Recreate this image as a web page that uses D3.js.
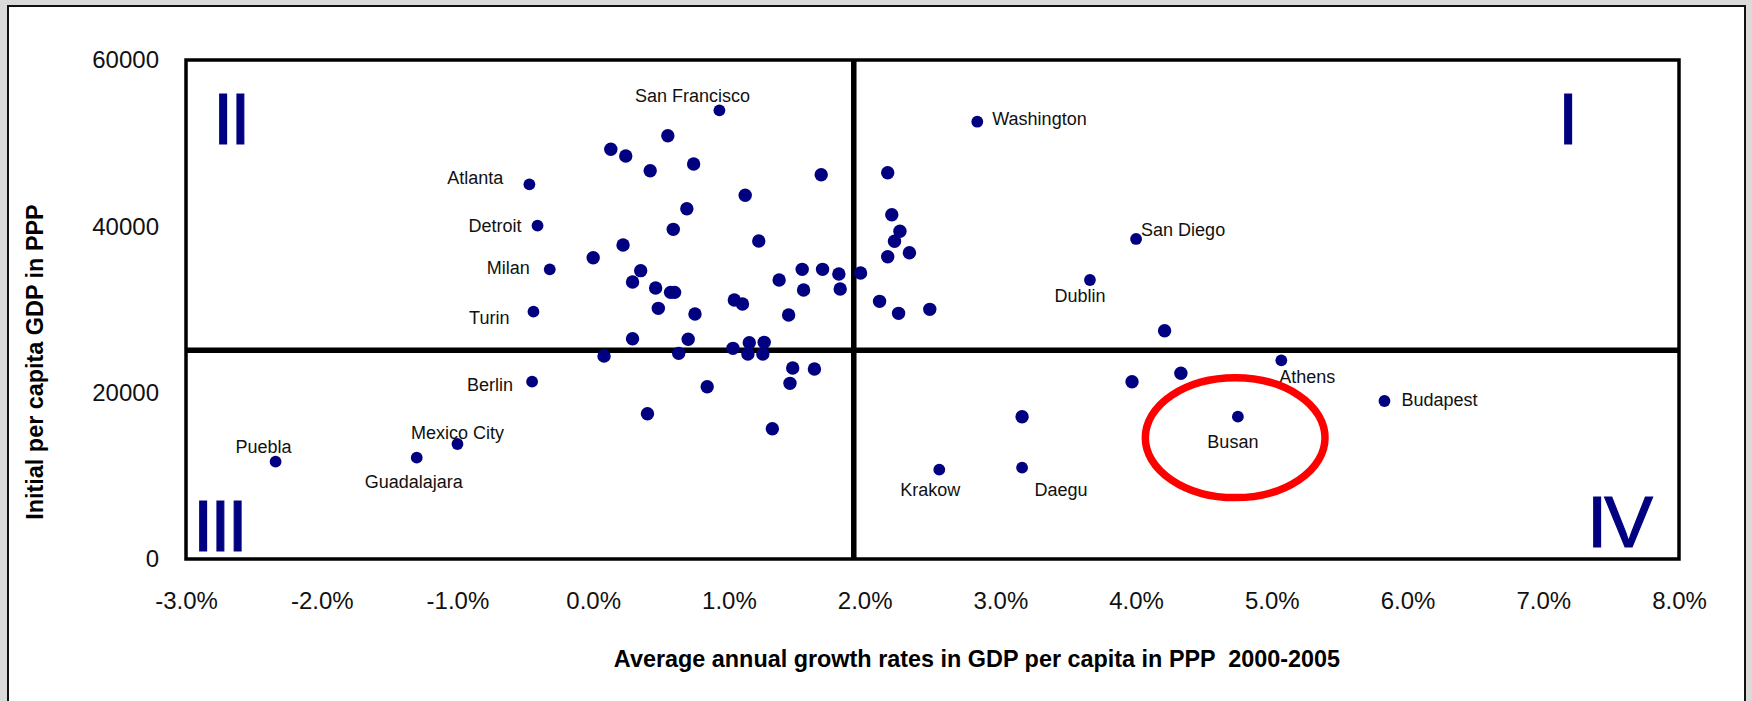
<!DOCTYPE html>
<html>
<head>
<meta charset="utf-8">
<script src="https://cdn.jsdelivr.net/npm/d3@7/dist/d3.min.js"></script>
<style>
	html, body { margin: 0; padding: 0; background: #dadada; }
	svg { display: block; font-family: 'Liberation Sans', Arial, sans-serif; }
</style>
</head>
<body>
<svg id="chart" width="1752" height="701"></svg>
<script>
// city labels ('' = unlabelled point)
const cities = [
	'San Francisco', 'Washington', 'Atlanta', 'Detroit', 'Milan', 'Turin', 'Berlin',
	'Mexico City', 'Puebla', 'Guadalajara', 'Dublin', 'San Diego', 'Athens',
	'Budapest', 'Busan', 'Krakow', 'Daegu',
	'', '', '', '', '', '', '', '', '', '', '', '', '', '', '', '', '', '', '', '',
	'', '', '', '', '', '', '', '', '', '', '', '', '', '', '', '', '', '', '', '',
	'', '', '', '', '', '', '', '', '', '', '', '', '', '', ''
];

// average annual growth 2000-2005, in %
const growthRates = [
	0.93, 2.83, -0.47, -0.41, -0.32, -0.44, -0.45,
	-1.00, -2.34, -1.30, 3.66, 4.00, 5.07,
	5.83, 4.75, 2.55, 3.16,
	0.55, 0.13, 0.24, 0.42, 0.74, 1.68, 1.12, 0.69, 0.59, 1.22, 0.22, 0.00,
	0.35, 1.54, 1.69, 1.81, 1.37, 0.29, 0.46, 0.57, 0.60, 1.55, 1.82, 1.04,
	1.10, 0.48, 0.75, 1.44, 0.29, 0.70, 0.08, 0.63, 1.03, 1.15, 1.26, 1.14,
	1.25, 1.47, 1.63, 1.45, 0.84, 0.40, 1.32, 2.17, 2.20, 2.26, 2.22, 2.33,
	2.17, 1.97, 2.11, 2.25, 2.48, 4.21, 3.97, 4.33, 3.16
];

// initial per capita GDP in PPP
const initialGdp = [
	53950, 52580, 45050, 40080, 34830, 29740, 21320,
	13830, 11700, 12180, 33550, 38480, 23890,
	19000, 17110, 10740, 10980,
	50900, 49260, 48460, 46690, 47500, 46210, 43730, 42120, 39640, 38240, 37750, 36230,
	34670, 34830, 34830, 34270, 33550, 33310, 32580, 32060, 32060, 32350, 32460, 31140,
	30660, 30140, 29460, 29340, 26490, 26420, 24410, 24730, 25330, 26010, 26050, 24650,
	24650, 22970, 22850, 21120, 20720, 17470, 15670, 46450, 41400, 39400, 38200, 36830,
	36350, 34390, 30980, 29540, 30020, 27450, 21320, 22330, 17110
];

const xTicks = [-3, -2, -1, 0, 1, 2, 3, 4, 5, 6, 7, 8];
const yTicks = [0, 20000, 40000, 60000];

// quadrant split: averages
const averageGrowth = 1.92;
const averageGdp = 25100;

// highlight round Busan (centre and radii in data units)
const highlight = { growth: 4.73, gdp: 14590, growthRadius: 0.662, gdpRadius: 7210 };

const quadrants = ['I', 'II', 'III', 'IV'];

const labelPlacement = {
	'San Francisco': { dx: -27, dy: -8, anchor: 'middle' },
	'Washington': { dx: 15, dy: 3, anchor: 'start' },
	'Atlanta': { dx: -26, dy: 0, anchor: 'end' },
	'Detroit': { dx: -16, dy: 6, anchor: 'end' },
	'Milan': { dx: -20, dy: 5, anchor: 'end' },
	'Turin': { dx: -24, dy: 12, anchor: 'end' },
	'Berlin': { dx: -19, dy: 9, anchor: 'end' },
	'Mexico City': { dx: 0, dy: -5, anchor: 'middle' },
	'Puebla': { dx: -12, dy: -9, anchor: 'middle' },
	'Guadalajara': { dx: -3, dy: 30, anchor: 'middle' },
	'Dublin': { dx: -10, dy: 22, anchor: 'middle' },
	'San Diego': { dx: 5, dy: -3, anchor: 'start' },
	'Athens': { dx: -2, dy: 23, anchor: 'start' },
	'Budapest': { dx: 17, dy: 5, anchor: 'start' },
	'Busan': { dx: -5, dy: 31, anchor: 'middle' },
	'Krakow': { dx: -9, dy: 26, anchor: 'middle' },
	'Daegu': { dx: 39, dy: 28, anchor: 'middle' }
};

const plot = { left: 186, top: 60, right: 1679, bottom: 559 };
const navy = '#000080';

const points = growthRates.map((g, i) => ({
	name: cities[i],
	growth: g,
	gdp: initialGdp[i]
}));

const svg = d3.select('#chart');

const x = d3.scaleLinear()
	.domain([xTicks[0], xTicks[xTicks.length - 1]])
	.range([plot.left, plot.right]);

const y = d3.scaleLinear()
	.domain([yTicks[0], yTicks[yTicks.length - 1]])
	.range([plot.bottom, plot.top]);

// outer slide frame
svg.append('rect')
	.attr('x', 8)
	.attr('y', 6)
	.attr('width', 1737)
	.attr('height', 740)
	.attr('fill', '#fff')
	.attr('stroke', '#111')
	.attr('stroke-width', 2);

// axes (labels only, frame does the lines)
const xAxis = svg.append('g')
	.attr('transform', `translate(0,${plot.bottom})`)
	.call(d3.axisBottom(x)
		.tickValues(xTicks)
		.tickSize(0)
		.tickPadding(33)
		.tickFormat((d) => d.toFixed(1) + '%'));

const yAxis = svg.append('g')
	.attr('transform', `translate(${plot.left},0)`)
	.call(d3.axisLeft(y)
		.tickValues(yTicks)
		.tickSize(0)
		.tickPadding(27)
		.tickFormat(d3.format('d')));

[xAxis, yAxis].forEach((axis) => {
	axis.select('.domain').remove();
	axis.selectAll('text')
		.attr('font-family', "'Liberation Sans', Arial, sans-serif")
		.attr('font-size', 24)
		.attr('fill', '#111');
});

// quadrant dividers
svg.append('line')
	.attr('x1', plot.left)
	.attr('x2', plot.right)
	.attr('y1', y(averageGdp))
	.attr('y2', y(averageGdp))
	.attr('stroke', '#000')
	.attr('stroke-width', 5.5);

svg.append('line')
	.attr('x1', x(averageGrowth))
	.attr('x2', x(averageGrowth))
	.attr('y1', plot.top)
	.attr('y2', plot.bottom)
	.attr('stroke', '#000')
	.attr('stroke-width', 5.5);

// plot frame
svg.append('rect')
	.attr('x', plot.left)
	.attr('y', plot.top)
	.attr('width', plot.right - plot.left)
	.attr('height', plot.bottom - plot.top)
	.attr('fill', 'none')
	.attr('stroke', '#000')
	.attr('stroke-width', 3.5);

// quadrant numerals
const quadrantPos = {
	'I': { x: plot.right - 121, y: 144, anchor: 'start' },
	'II': { x: plot.left + 27, y: 144, anchor: 'start' },
	'III': { x: plot.left + 7, y: 551, anchor: 'start' },
	'IV': { x: plot.right - 29, y: 547, anchor: 'end' }
};

svg.append('g')
	.selectAll('text')
	.data(quadrants)
	.join('text')
	.attr('x', (d) => quadrantPos[d].x)
	.attr('y', (d) => quadrantPos[d].y)
	.attr('text-anchor', (d) => quadrantPos[d].anchor)
	.attr('font-size', 73)
	.attr('letter-spacing', -3)
	.attr('fill', navy)
	.attr('stroke', navy)
	.attr('stroke-width', 1.2)
	.text((d) => d);

// points
svg.append('g')
	.selectAll('circle')
	.data(points)
	.join('circle')
	.attr('cx', (d) => x(d.growth))
	.attr('cy', (d) => y(d.gdp))
	.attr('r', (d) => d.name ? 5.9 : 6.7)
	.attr('fill', navy);

// city labels
svg.append('g')
	.selectAll('text')
	.data(points.filter((d) => d.name))
	.join('text')
	.attr('x', (d) => x(d.growth) + labelPlacement[d.name].dx)
	.attr('y', (d) => y(d.gdp) + labelPlacement[d.name].dy)
	.attr('text-anchor', (d) => labelPlacement[d.name].anchor)
	.attr('font-size', 18)
	.attr('fill', '#111')
	.text((d) => d.name);

// red ellipse round Busan
svg.append('ellipse')
	.attr('cx', x(highlight.growth))
	.attr('cy', y(highlight.gdp))
	.attr('rx', x(highlight.growthRadius) - x(0))
	.attr('ry', y(0) - y(highlight.gdpRadius))
	.attr('fill', 'none')
	.attr('stroke', '#ff0000')
	.attr('stroke-width', 7.5);

// axis titles
svg.append('text')
	.attr('x', 977)
	.attr('y', 667)
	.attr('text-anchor', 'middle')
	.attr('font-size', 23.4)
	.attr('font-weight', 'bold')
	.attr('fill', '#000')
	.attr('xml:space', 'preserve')
	.text('Average annual growth rates in GDP per capita in PPP  2000-2005');

svg.append('text')
	.attr('transform', 'translate(43,362) rotate(-90)')
	.attr('text-anchor', 'middle')
	.attr('font-size', 23.4)
	.attr('font-weight', 'bold')
	.attr('fill', '#000')
	.text('Initial per capita GDP in PPP');
</script>
</body>
</html>
